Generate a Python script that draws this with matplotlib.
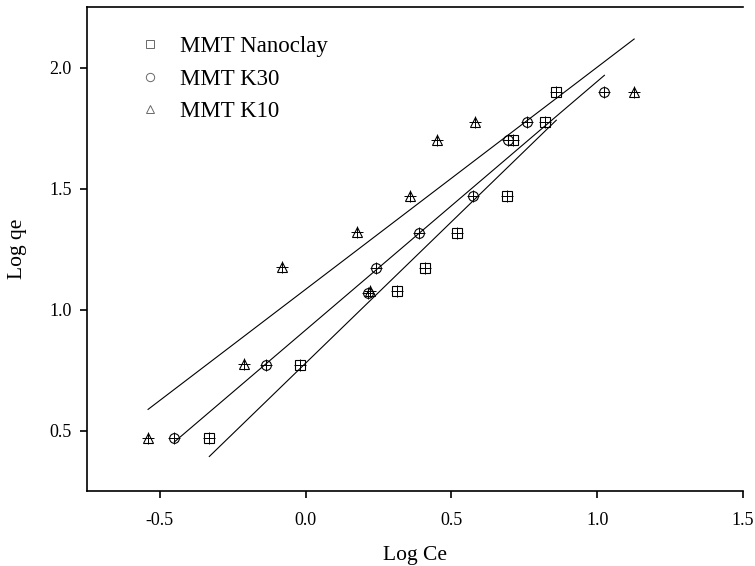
import numpy as np
import matplotlib
matplotlib.use('Agg')
import matplotlib.pyplot as plt
from matplotlib.lines import Line2D

plt.rcParams['font.family'] = 'Liberation Serif'

# Freundlich plot data (Log Ce, Log qe)
ce_nanoclay = [-0.33, -0.02, 0.315, 0.41, 0.52, 0.69, 0.71, 0.82, 0.86]
qe_nanoclay = [0.47, 0.77, 1.075, 1.17, 1.315, 1.47, 1.70, 1.775, 1.90]

ce_k30 = [-0.45, -0.135, 0.215, 0.24, 0.39, 0.575, 0.695, 0.76, 1.025]
qe_k30 = [0.47, 0.77, 1.07, 1.17, 1.315, 1.47, 1.70, 1.775, 1.90]

ce_k10 = [-0.54, -0.21, 0.22, -0.08, 0.175, 0.36, 0.45, 0.58, 1.127]
qe_k10 = [0.47, 0.775, 1.075, 1.175, 1.32, 1.47, 1.70, 1.775, 1.90]

labels = ['MMT Nanoclay', 'MMT K30', 'MMT K10']
markers = ['s', 'o', '^']

fig = plt.figure(figsize=(7.55, 5.66), dpi=100)
ax = fig.add_axes([0.115, 0.1325, 0.869, 0.855])

series = [(ce_nanoclay, qe_nanoclay), (ce_k30, qe_k30), (ce_k10, qe_k10)]
for (x, y), m in zip(series, markers):
    x = np.array(x)
    y = np.array(y)
    # linear fit over the range of the series
    k, b = np.polyfit(x, y, 1)
    xs = np.array([x.min(), x.max()])
    ax.plot(xs, k * xs + b, color='black', lw=0.8)
    ax.plot(x, y, linestyle='none', marker=m, ms=7, mfc='none', mec='black', mew=0.8)
    ax.plot(x, y, linestyle='none', marker='+', ms=8, mec='black', mew=0.7)

ax.set_xlim(-0.75, 1.5)
ax.set_ylim(0.25, 2.25)
ax.set_xticks([-0.5, 0.0, 0.5, 1.0, 1.5])
ax.set_yticks([0.5, 1.0, 1.5, 2.0])
ax.xaxis.set_major_formatter(matplotlib.ticker.FormatStrFormatter('%.1f'))
ax.yaxis.set_major_formatter(matplotlib.ticker.FormatStrFormatter('%.1f'))
ax.tick_params(direction='out', length=5, width=1.2, labelsize=13)
ax.tick_params(axis='x', pad=10)
ax.tick_params(axis='y', pad=6)
ax.spines['right'].set_visible(False)
for s in ['left', 'bottom', 'top']:
    ax.spines[s].set_linewidth(1.2)

ax.set_xlabel('Log Ce', fontsize=15.5, labelpad=12)
ax.set_ylabel('Log qe', fontsize=15.5, labelpad=16)

handles = [Line2D([], [], linestyle='none', marker=m, ms=6, mfc='none',
                  mec='dimgray', mew=0.7) for m in markers]
ax.legend(handles, labels, loc='upper left', frameon=False, fontsize=16.5,
          bbox_to_anchor=(0.03, 0.982), handletextpad=0.3, labelspacing=0.5)

plt.savefig('out.png', dpi=100)
